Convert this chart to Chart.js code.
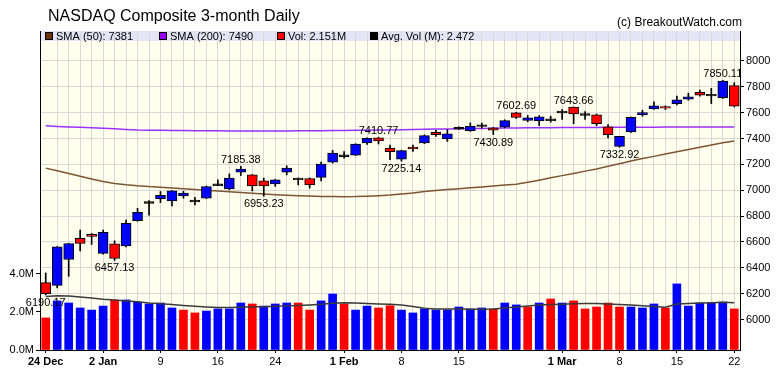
<!DOCTYPE html>
<html>
<head>
<meta charset="utf-8">
<title>NASDAQ Composite 3-month Daily</title>
<script src="https://cdn.jsdelivr.net/npm/chart.js@4.4.1/dist/chart.umd.min.js"></script>
<style>
  html, body { margin: 0; padding: 0; background: #fff; }
  canvas { display: block; }
</style>
</head>
<body>
<canvas id="myChart" width="780" height="376"></canvas>
<script>
// trading days, 24 Dec 2018 - 22 Mar 2019
const dates = [
  '24 Dec','26 Dec','27 Dec','28 Dec','31 Dec',
  '2 Jan','3 Jan','4 Jan','7 Jan','8 Jan','9 Jan','10 Jan','11 Jan','14 Jan','15 Jan','16 Jan','17 Jan','18 Jan',
  '22 Jan','23 Jan','24 Jan','25 Jan','28 Jan','29 Jan','30 Jan','31 Jan',
  '1 Feb','4 Feb','5 Feb','6 Feb','7 Feb','8 Feb','11 Feb','12 Feb','13 Feb','14 Feb','15 Feb',
  '19 Feb','20 Feb','21 Feb','22 Feb','25 Feb','26 Feb','27 Feb','28 Feb',
  '1 Mar','4 Mar','5 Mar','6 Mar','7 Mar','8 Mar','11 Mar','12 Mar','13 Mar','14 Mar','15 Mar',
  '18 Mar','19 Mar','20 Mar','21 Mar','22 Mar'
];

const opens  = [6285,6264,6464,6627,6658, 6511,6585,6570,6764,6905,6932,6917,6956,6916,6938,7041,7010,7140,
                7119,7073,7049,7140,7087,7091,7099,7218, 7266,7272,7366,7405,7327,7241,7334,7366,7448,7397,7478,
                7461,7499,7482,7487,7598,7541,7537,7544, 7605,7643,7585,7583,7490,7339,7451,7583,7630,7648,7669,
                7705,7757,7735,7716,7809];
const highs  = [6360,6565,6590,6692,6666, 6692,6609,6770,6860,6920,6990,6998,6992,6946,7032,7080,7127,7185.38,
                7122,7094,7085,7189,7095,7095,7218,7308, 7300,7360,7406,7410.77,7350,7310,7350,7428,7464,7469,7490,
                7521,7521,7486,7545,7602.69,7578,7577,7573, 7625,7643.66,7609,7590,7508,7417,7566,7619,7684,7652,7728,
                7751,7775,7788,7850.11,7832];
const lows   = [6190.17,6245,6334,6531,6581, 6505,6457.13,6562,6760,6808,6904,6878,6938,6886,6935,7035,7003,7114,
                6995,6953.23,7030,7119,7042,7016,7073,7210, 7249,7268,7355,7358,7236,7225.14,7300,7360,7417,7378,7470,
                7455,7480,7430.89,7484,7555,7530,7500,7526, 7547,7515,7547,7500,7405,7332.92,7448,7573,7625,7625,7661,
                7697,7728,7671,7710,7645];
const closes = [6200,6562,6588,6588,6643, 6674,6472,6744,6829,6907,6961,6995,6979,6918,7029,7043,7094,7163,
                7034,7034,7080,7171,7089,7042,7203,7288, 7268,7357,7402,7381,7298,7306,7319,7422,7430,7436,7480,
                7495,7501,7464,7539,7563,7560,7568,7546, 7607,7591,7587,7516,7430,7417,7565,7601,7653,7635,7700,
                7723,7736,7737,7845,7650];

// volume in millions, 1 = up day (blue), 0 = down day (red)
const volumes = [1.68,2.57,2.46,2.20,2.09, 2.30,2.62,2.62,2.51,2.41,2.46,2.20,2.09,1.94,2.04,2.15,2.15,2.46,
                 2.41,2.30,2.41,2.46,2.46,2.09,2.57,2.93, 2.41,2.09,2.30,2.20,2.32,2.09,1.94,2.15,2.09,2.09,2.25,
                 2.15,2.20,2.15,2.46,2.36,2.25,2.46,2.67, 2.46,2.57,2.15,2.25,2.46,2.25,2.25,2.20,2.41,2.20,3.46,
                 2.30,2.46,2.46,2.51,2.151];
const volUp = [0,1,1,1,1, 1,0,1,1,1,1,1,0,0,1,1,1,1, 0,1,1,1,0,0,1,1, 0,1,1,0,0,1,1,1,1,1,1,
               1,1,0,1,1,0,1,0, 1,0,0,0,0,0,1,1,1,0,1, 1,1,1,1,0];
const avgVol = [2.80,2.84,2.83,2.78,2.72, 2.66,2.62,2.57,2.52,2.46,2.42,2.38,2.33,2.29,2.25,2.22,2.22,2.24,
                2.26,2.27,2.29,2.31,2.33,2.36,2.40,2.45, 2.48,2.46,2.44,2.41,2.39,2.36,2.28,2.18,2.15,2.14,2.14,
                2.13,2.13,2.15,2.20,2.25,2.30,2.35,2.38, 2.40,2.42,2.44,2.43,2.41,2.38,2.35,2.32,2.28,2.24,2.41,
                2.44,2.46,2.48,2.50,2.472];

const sma50 = [7171,7150,7129,7108,7087, 7068,7053,7042,7034,7028,7024,7018,7012,7006,7000,6994,6988,6982,
               6976,6971,6966,6962,6958,6955,6952,6951, 6950,6951,6954,6958,6963,6970,6978,6990,6998,7005,7012,
               7019,7026,7033,7040,7047,7062,7078,7096, 7113,7130,7148,7165,7185,7205,7226,7245,7262,7280,7298,
               7315,7332,7350,7367,7381];
const sma200 = [7498,7494,7490,7487,7483, 7479,7475,7470,7466,7465,7464,7463,7462,7461,7460,7460,7459,7459,
                7459,7459,7459,7459,7460,7460,7461,7462, 7463,7464,7465,7466,7467,7468,7470,7471,7473,7474,7476,
                7477,7478,7480,7481,7482,7483,7483,7484, 7485,7485,7486,7486,7487,7487,7488,7488,7488,7489,7489,
                7489,7489,7490,7490,7490];

// highs / lows that get a price label
const markHigh = [17, 29, 41, 46, 59];
const markLow = [0, 6, 19, 31, 39, 50];

const tickDates  = ['24 Dec','2 Jan','9 Jan','16 Jan','24 Jan','1 Feb','8 Feb','15 Feb','1 Mar','8 Mar','15 Mar','22 Mar'];
const tickLabels = ['24 Dec','2 Jan','9','16','24','1 Feb','8','15','1 Mar','8','15','22'];
const priceTicks = [6000,6200,6400,6600,6800,7000,7200,7400,7600,7800,8000];
const volTicks = [0, 2, 4];

const FONT = '"Liberation Sans", Arial, sans-serif';
Chart.defaults.font.family = FONT;
Chart.defaults.font.size = 11;
Chart.defaults.color = '#000';

const BLUE = '#0000ff', RED = '#ff0000';

const bodies = opens.map((o, i) => {
  const c = closes[i];
  if (Math.abs(o - c) < 6) { const m = (o + c) / 2; return [m - 7, m + 7]; }
  return [o, c];
});
const bodyColors = opens.map((o, i) =>
  Math.abs(o - closes[i]) < 6 ? '#000' : (closes[i] > o ? BLUE : RED));
const wicks = lows.map((l, i) => [l, highs[i]]);

const tickText = i => {
  const k = tickDates.indexOf(dates[i]);
  return k < 0 ? '' : tickLabels[k];
};

const decor = {
  id: 'decor',
  beforeDraw(chart) {
    const { ctx, chartArea: a } = chart;
    ctx.save();
    ctx.fillStyle = '#fff';
    ctx.fillRect(0, 0, chart.width, chart.height);
    ctx.fillStyle = '#ffffee';
    ctx.fillRect(a.left, a.top, a.right - a.left, a.bottom - a.top);
    ctx.fillStyle = '#e4e4f6';
    ctx.fillRect(a.left, a.top, a.right - a.left, 10);
    ctx.restore();
  },
  afterDraw(chart) {
    const { ctx, chartArea: a } = chart;
    const xs = chart.scales.x, ys = chart.scales.y;
    ctx.save();

    // title + copyright
    ctx.fillStyle = '#000';
    ctx.textBaseline = 'alphabetic';
    ctx.font = '16px ' + FONT;
    ctx.textAlign = 'left';
    ctx.fillText('NASDAQ Composite 3-month Daily', 48, 21);
    ctx.font = '12px ' + FONT;
    ctx.textAlign = 'right';
    ctx.fillText('(c) BreakoutWatch.com', 742, 26);

    // legend strip
    const items = [
      ['#663300', 'SMA (50): ' + sma50[sma50.length - 1], 45],
      ['#9900ff', 'SMA (200): ' + sma200[sma200.length - 1], 159],
      [RED, 'Vol: ' + volumes[volumes.length - 1] + 'M', 277],
      ['#000000', 'Avg. Vol (M): ' + avgVol[avgVol.length - 1], 370]
    ];
    ctx.font = '11px ' + FONT;
    ctx.textAlign = 'left';
    ctx.textBaseline = 'middle';
    items.forEach(([col, txt, x]) => {
      ctx.fillStyle = col;
      ctx.fillRect(x, a.top + 1, 8, 8);
      ctx.strokeStyle = '#000';
      ctx.lineWidth = 1;
      ctx.strokeRect(x + 0.5, a.top + 1.5, 7, 7);
      ctx.fillStyle = '#000';
      ctx.fillText(txt, x + 11, a.top + 5.5);
    });

    // high / low price labels (clipped only at the right edge)
    ctx.beginPath();
    ctx.rect(0, a.top, a.right, a.bottom - a.top);
    ctx.clip();
    ctx.textAlign = 'center';
    ctx.textBaseline = 'alphabetic';
    markHigh.forEach(i => {
      ctx.fillText(highs[i].toFixed(2), xs.getPixelForValue(i), ys.getPixelForValue(highs[i]) - 3);
    });
    markLow.forEach(i => {
      ctx.fillText(lows[i].toFixed(2), xs.getPixelForValue(i), ys.getPixelForValue(lows[i]) + 11);
    });
    ctx.restore();
  }
};

const ctx = document.getElementById('myChart').getContext('2d');
const myChart = new Chart(ctx, {
  type: 'bar',
  data: {
    labels: dates,
    datasets: [
      {
        label: 'Body', data: bodies, yAxisID: 'y', order: 0,
        backgroundColor: bodyColors, borderColor: '#000', borderWidth: 1,
        borderSkipped: false, barThickness: 10, grouped: false
      },
      {
        label: 'Wick', data: wicks, yAxisID: 'y', order: 1,
        backgroundColor: '#000', borderWidth: 0, barThickness: 1, grouped: false
      },
      {
        type: 'line', label: 'SMA (50)', data: sma50, yAxisID: 'y', order: 2,
        borderColor: '#7d5530', borderWidth: 1.5, pointRadius: 0
      },
      {
        type: 'line', label: 'SMA (200)', data: sma200, yAxisID: 'y', order: 2,
        borderColor: '#9b30ff', borderWidth: 1.5, pointRadius: 0
      },
      {
        type: 'line', label: 'Avg. Vol', data: avgVol, yAxisID: 'yv', order: 3,
        borderColor: '#3a3a3a', borderWidth: 1.5, pointRadius: 0
      },
      {
        label: 'Vol', data: volumes, yAxisID: 'yv', order: 4,
        backgroundColor: volUp.map(u => u ? BLUE : RED), borderWidth: 0,
        barThickness: 8, grouped: false
      }
    ]
  },
  options: {
    responsive: false,
    devicePixelRatio: 1,
    animation: false,
    layout: { padding: { top: 31, left: 0, right: 0, bottom: 0 } },
    plugins: { legend: { display: false }, tooltip: { enabled: false }, title: { display: false } },
    scales: {
      x: {
        offset: true,
        grid: {
          offset: false,
          color: c => c.index === 0 ? 'rgba(0,0,0,0)' : '#d8d8d8',
          tickColor: c => tickText(c.index) ? '#000' : 'rgba(0,0,0,0)',
          tickLength: 3
        },
        border: { color: '#000' },
        ticks: {
          autoSkip: false, maxRotation: 0, minRotation: 0, padding: 2,
          callback: (v, i) => tickText(i),
          font: c => ({ family: FONT, size: 11, weight: tickText(c.index).includes(' ') ? 'bold' : 'normal' })
        },
        afterFit: s => { s.height = 26; }
      },
      y: {
        position: 'right',
        min: 5764, max: 8232,
        afterBuildTicks: s => { s.ticks = priceTicks.map(v => ({ value: v })); },
        grid: { color: '#d8d8d8', tickColor: '#000', tickLength: 4 },
        border: { color: '#000' },
        ticks: { padding: 2, callback: v => String(v) },
        afterFit: s => { s.width = 40; }
      },
      yv: {
        position: 'left',
        min: 0, max: 16.7,
        afterBuildTicks: s => { s.ticks = volTicks.map(v => ({ value: v })); },
        grid: { drawOnChartArea: false, tickColor: '#000', tickLength: 4 },
        border: { color: '#000' },
        ticks: { padding: 2, callback: v => v.toFixed(1) + 'M' },
        afterFit: s => { s.width = 40; }
      }
    }
  },
  plugins: [decor]
});
</script>
</body>
</html>
